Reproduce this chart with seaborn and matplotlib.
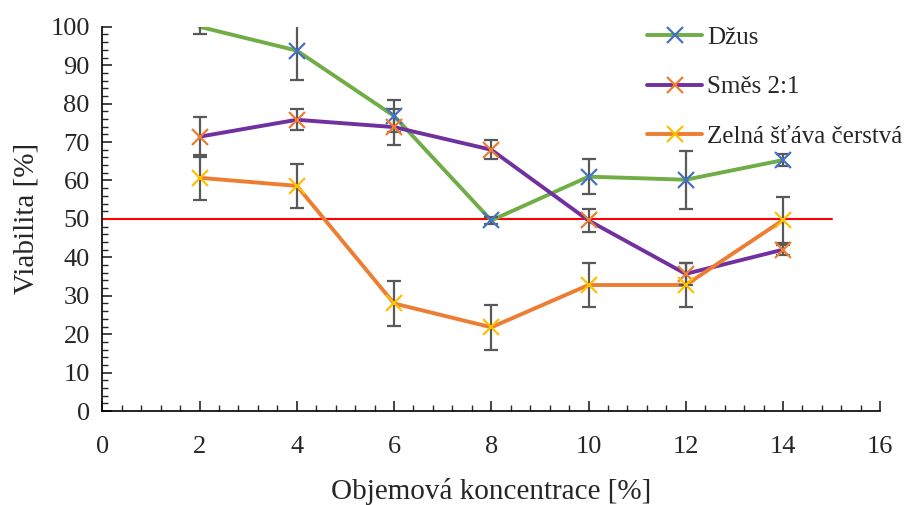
import pandas as pd
import seaborn as sns
import matplotlib.pyplot as plt
from matplotlib.lines import Line2D
from matplotlib.ticker import MultipleLocator

# data
koncentrace = [2, 4, 6, 8, 10, 12, 14]
dzus = [100, 93.8, 76.8, 49.6, 61.0, 60.2, 65.3]
dzus_err = [2.0, 7.7, 4.2, 1.0, 4.6, 7.5, 1.5]
smes = [71.4, 75.8, 73.9, 68.0, 49.6, 35.7, 42.0]
smes_err = [5.2, 2.7, 4.6, 2.5, 3.0, 2.8, 1.3]
zelna = [60.7, 58.6, 28.0, 21.8, 32.8, 32.8, 49.7]
zelna_err = [5.9, 5.7, 5.9, 5.8, 5.7, 5.7, 5.9]
prah = 50

labels = ['Džus', 'Směs 2:1', 'Zelná šťáva čerstvá']
line_colors = ['#70AD47', '#7030A0', '#ED7D31']
marker_colors = ['#4472C4', '#ED7D31', '#FFC000']

sns.set_style("ticks")
plt.rcParams['font.family'] = ['Liberation Serif', 'DejaVu Serif']

frames = []
for lab, vals, errs in zip(labels, [dzus, smes, zelna], [dzus_err, smes_err, zelna_err]):
    frames.append(pd.DataFrame({'x': koncentrace, 'y': vals, 'err': errs, 'serie': lab}))
df = pd.concat(frames, ignore_index=True)

fig = plt.figure(figsize=(9.14, 5.05), dpi=100)
ax = fig.add_axes([0.112, 0.186, 0.851, 0.761])

# threshold line
ax.plot([0, 15], [prah, prah], color='#FF0000', lw=1.5, zorder=1)

sns.lineplot(data=df, x='x', y='y', hue='serie', palette=line_colors,
             hue_order=labels, lw=2.8, legend=False, ax=ax, zorder=2)

for lab, mc in zip(labels, marker_colors):
    d = df[df['serie'] == lab]
    ax.errorbar(d['x'], d['y'], yerr=d['err'], fmt='none', ecolor='#595959',
                elinewidth=1.6, capsize=5, capthick=1.6, zorder=3)
    d = d[d['y'] < 100]
    ax.plot(d['x'], d['y'], ls='none', marker='x', ms=11, mew=1.6, color=mc, zorder=4)

ax.set_xlim(0, 16)
ax.set_ylim(0, 100)
ax.xaxis.set_major_locator(MultipleLocator(2))
ax.xaxis.set_minor_locator(MultipleLocator(0.4))
ax.yaxis.set_major_locator(MultipleLocator(10))
ax.yaxis.set_minor_locator(MultipleLocator(2))
ax.tick_params(which='major', direction='in', length=7, width=1.2, labelsize=19)
ax.tick_params(which='minor', direction='in', length=4, width=1.0)
ax.tick_params(axis='x', pad=18)
ax.tick_params(axis='y', pad=9)
for s in ['top', 'right']:
    ax.spines[s].set_visible(False)
for s in ['left', 'bottom']:
    ax.spines[s].set_linewidth(1.2)
    ax.spines[s].set_color('black')

ax.set_xlabel('Objemová koncentrace [%]', fontsize=21, labelpad=14)
ax.set_ylabel('Viabilita [%]', fontsize=21, labelpad=8)

handles = [Line2D([0], [0], color=lc, lw=2.8, marker='x', ms=11, mew=1.6,
                  markeredgecolor=mc) for lc, mc in zip(line_colors, marker_colors)]
fig.legend(handles, labels, loc='upper left', bbox_to_anchor=(0.708, 0.948),
           frameon=False, fontsize=18, labelspacing=1.08, handlelength=2.2,
           handletextpad=0.2, borderpad=0, borderaxespad=0)

fig.savefig('out.png', dpi=100)
